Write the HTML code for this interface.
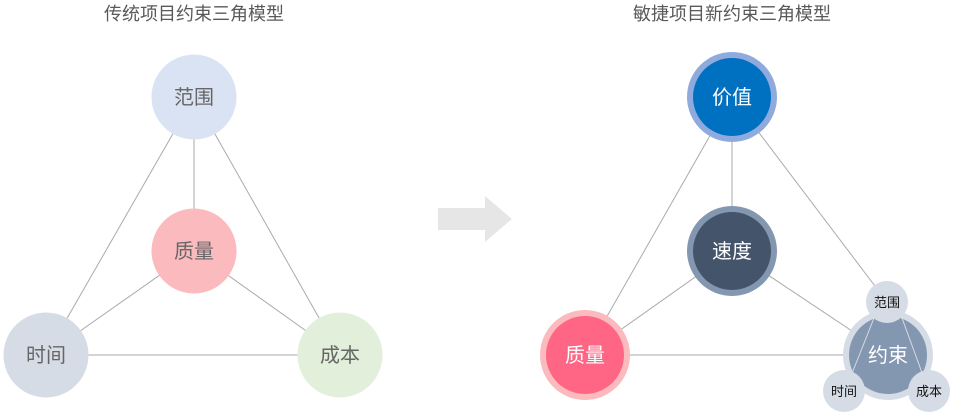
<!DOCTYPE html>
<html><head><meta charset="utf-8"><style>
html,body{margin:0;padding:0;background:#fff;}
svg{display:block;}
text{font-family:"Liberation Sans","Noto Sans CJK SC",sans-serif;}
</style></head><body>
<svg width="954" height="416" viewBox="0 0 954 416" xmlns="http://www.w3.org/2000/svg">
<text x="194" y="20" font-size="18" fill="#595959" text-anchor="middle">传统项目约束三角模型</text>
<text x="732" y="20" font-size="18" fill="#595959" text-anchor="middle">敏捷项目新约束三角模型</text>
<g stroke="#aaaaaa" stroke-width="1">
<line x1="194" y1="97" x2="46" y2="355"/><line x1="194" y1="97" x2="340" y2="355"/>
<line x1="46" y1="355" x2="340" y2="355"/><line x1="194" y1="97" x2="194" y2="251"/>
<line x1="194" y1="251" x2="46" y2="355"/><line x1="194" y1="251" x2="340" y2="355"/>
<line x1="732" y1="97" x2="585" y2="355"/><line x1="732" y1="97" x2="887" y2="302"/>
<line x1="585" y1="355" x2="888" y2="355"/><line x1="732" y1="97" x2="732" y2="251"/>
<line x1="732" y1="251" x2="585" y2="355"/><line x1="732" y1="251" x2="888" y2="355"/>
</g>
<circle cx="194" cy="97" r="42.5" fill="#dae3f3"/>
<circle cx="194" cy="251" r="42.5" fill="#fbbabd"/>
<circle cx="46" cy="355" r="42.5" fill="#d6dce5"/>
<circle cx="340" cy="355" r="42.5" fill="#e2efda"/>
<g font-size="20" fill="#666" text-anchor="middle">
<text x="194" y="104">范围</text><text x="194" y="258">质量</text>
<text x="46" y="362">时间</text><text x="340" y="362">成本</text>
</g>
<polygon points="438,208 485,208 485,196 512,219 485,242 485,230 438,230" fill="#e6e6e6"/>
<circle cx="732" cy="97" r="45" fill="#8faadc"/><circle cx="732" cy="97" r="39" fill="#0070c0"/>
<circle cx="732" cy="251" r="45" fill="#8497b0"/><circle cx="732" cy="251" r="39" fill="#44546a"/>
<circle cx="585" cy="355" r="45" fill="#fbbabd"/><circle cx="585" cy="355" r="39" fill="#ff6584"/>
<circle cx="888" cy="355" r="45" fill="#d6dce5"/><circle cx="888" cy="355" r="39" fill="#8497b0"/>
<g stroke="#d6dce5" stroke-width="1"><line x1="874" y1="318" x2="849" y2="381"/><line x1="902" y1="318" x2="925" y2="381"/></g>
<circle cx="887" cy="302" r="21" fill="#d6dce5"/>
<circle cx="844" cy="391" r="21" fill="#d6dce5"/>
<circle cx="929" cy="391" r="21" fill="#d6dce5"/>
<g font-size="20" fill="#fff" text-anchor="middle">
<text x="732" y="104">价值</text><text x="732" y="258">速度</text>
<text x="585" y="362">质量</text><text x="888" y="362">约束</text>
</g>
<g font-size="13" fill="#111" text-anchor="middle">
<text x="887" y="307">范围</text><text x="844" y="396">时间</text><text x="929" y="396">成本</text>
</g>
</svg>
</body></html>
